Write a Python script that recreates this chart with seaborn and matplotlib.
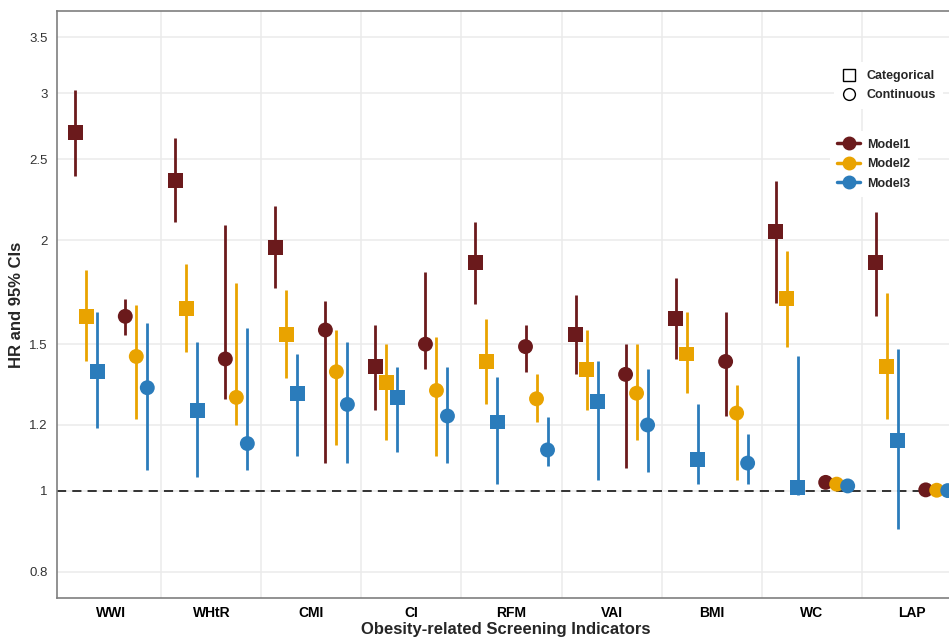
import numpy as np
import pandas as pd
import matplotlib
matplotlib.use("Agg")
import matplotlib.pyplot as plt
from matplotlib.lines import Line2D
import seaborn as sns

# Indicators on the x axis
indicators = ["WWI", "WHtR", "CMI", "CI", "RFM", "VAI", "BMI", "WC", "LAP"]
models = ["Model1", "Model2", "Model3"]
kinds = ["Categorical", "Continuous"]

# Categorical (highest vs lowest) HRs and 95% CIs
cat_m1_hr = [2.69, 2.36, 1.96, 1.41, 1.88, 1.54, 1.61, 2.05, 1.88]
cat_m1_lo = [2.39, 2.10, 1.75, 1.25, 1.675, 1.38, 1.44, 1.68, 1.62]
cat_m1_hi = [3.03, 2.65, 2.20, 1.58, 2.10, 1.72, 1.80, 2.355, 2.16]
cat_m2_hr = [1.62, 1.655, 1.54, 1.35, 1.43, 1.40, 1.46, 1.70, 1.41]
cat_m2_lo = [1.43, 1.47, 1.365, 1.15, 1.27, 1.25, 1.31, 1.49, 1.22]
cat_m2_hi = [1.84, 1.87, 1.74, 1.50, 1.61, 1.56, 1.64, 1.94, 1.73]
cat_m3_hr = [1.39, 1.25, 1.31, 1.295, 1.21, 1.28, 1.09, 1.01, 1.15]
cat_m3_lo = [1.19, 1.04, 1.10, 1.115, 1.02, 1.03, 1.02, 0.99, 0.90]
cat_m3_hi = [1.64, 1.51, 1.46, 1.41, 1.37, 1.43, 1.27, 1.45, 1.48]

# Continuous HRs and 95% CIs
con_m1_hr = [1.62, 1.44, 1.56, 1.50, 1.49, 1.38, 1.43, 1.024, 1.003]
con_m1_lo = [1.54, 1.29, 1.08, 1.40, 1.39, 1.065, 1.23, 1.015, 1.001]
con_m1_hi = [1.70, 2.085, 1.69, 1.83, 1.58, 1.50, 1.64, 1.033, 1.005]
con_m2_hr = [1.45, 1.295, 1.39, 1.32, 1.29, 1.31, 1.24, 1.019, 1.002]
con_m2_lo = [1.22, 1.20, 1.135, 1.10, 1.21, 1.15, 1.03, 1.011, 1.001]
con_m2_hi = [1.67, 1.775, 1.56, 1.53, 1.38, 1.50, 1.34, 1.027, 1.004]
con_m3_hr = [1.33, 1.14, 1.27, 1.23, 1.12, 1.20, 1.08, 1.014, 1.001]
con_m3_lo = [1.06, 1.06, 1.08, 1.08, 1.07, 1.055, 1.02, 1.006, 1.000]
con_m3_hi = [1.59, 1.57, 1.51, 1.41, 1.225, 1.40, 1.17, 1.022, 1.003]

y_ticks = [0.8, 1, 1.2, 1.5, 2, 2.5, 3, 3.5]
y_ticklabels = ["0.8", "1", "1.2", "1.5", "2", "2.5", "3", "3.5"]

colors = {"Model1": "#6B1A1C", "Model2": "#E9A300", "Model3": "#2B7CBB"}

# Build long table
series = {
    ("Categorical", "Model1"): (cat_m1_hr, cat_m1_lo, cat_m1_hi),
    ("Categorical", "Model2"): (cat_m2_hr, cat_m2_lo, cat_m2_hi),
    ("Categorical", "Model3"): (cat_m3_hr, cat_m3_lo, cat_m3_hi),
    ("Continuous", "Model1"): (con_m1_hr, con_m1_lo, con_m1_hi),
    ("Continuous", "Model2"): (con_m2_hr, con_m2_lo, con_m2_hi),
    ("Continuous", "Model3"): (con_m3_hr, con_m3_lo, con_m3_hi),
}
kind_off = {"Categorical": -0.25, "Continuous": 0.25}
model_off = {"Model1": -0.11, "Model2": 0.0, "Model3": 0.11}

rows = []
for (kind, model), (hr, lo, hi) in series.items():
    for i, ind in enumerate(indicators):
        rows.append({"indicator": ind, "kind": kind, "model": model,
                     "hr": hr[i], "lo": lo[i], "hi": hi[i],
                     "pos": i + kind_off[kind] + model_off[model]})
df = pd.DataFrame(rows)

sns.set_style("white")
plt.rcParams["font.family"] = ["Liberation Sans", "DejaVu Sans"]

fig = plt.figure(figsize=(9.49, 6.38), dpi=100)
ax = fig.add_axes([0.060, 0.0627, 0.945, 0.9201])

# Grid
for t in y_ticks:
    ax.axhline(t, color="#EBEBEB", lw=1.1, zorder=0)
for k in range(len(indicators) - 1):
    ax.axvline(k + 0.5, color="#EBEBEB", lw=1.1, zorder=0)

ax.axhline(1, color="black", lw=1.1, ls=(0, (6, 4)), zorder=1)

# CI lines
ax.vlines(df["pos"], df["lo"], df["hi"], colors=df["model"].map(colors), lw=2.0, zorder=2)

# Points
sns.scatterplot(data=df, x="pos", y="hr", hue="model", style="kind",
                markers={"Categorical": "s", "Continuous": "o"},
                palette=colors, s=115, linewidth=0, legend=False, ax=ax, zorder=3)

ax.set_yscale("log")
ax.set_ylim(0.744, 3.766)
ax.set_xlim(-0.543, 8.42)
ax.set_yticks(y_ticks)
ax.set_yticklabels(y_ticklabels)
ax.minorticks_off()
ax.set_xticks(range(len(indicators)))
ax.set_xticklabels(indicators, fontweight="bold")

ax.tick_params(axis="both", length=3.5, width=1, color="#555555", labelsize=9.5,
               labelcolor="#333333", pad=3)
ax.tick_params(axis="x", labelsize=10, labelcolor="black", pad=2.5)
for sp in ["left", "bottom", "top"]:
    ax.spines[sp].set_color("#7F7F7F")
    ax.spines[sp].set_linewidth(1.2)
ax.spines["right"].set_visible(False)

ax.set_xlabel("Obesity-related Screening Indicators", fontsize=12, fontweight="bold", labelpad=1.5)
ax.set_ylabel("HR and 95% CIs", fontsize=12, fontweight="bold", labelpad=4)

# Legends
kind_handles = [Line2D([0], [0], marker="s", ls="none", mfc="white", mec="black", mew=1.0, ms=8),
                Line2D([0], [0], marker="o", ls="none", mfc="white", mec="black", mew=1.0, ms=8.5)]
leg1 = ax.legend(kind_handles, kinds, loc="upper left", bbox_to_anchor=(0.872, 0.912),
                 bbox_transform=fig.transFigure, frameon=True, facecolor="white",
                 edgecolor="none", framealpha=1, fancybox=False, handlelength=1.2,
                 handletextpad=0.8, labelspacing=0.6, borderpad=0.6,
                 prop={"weight": "bold", "size": 9})
ax.add_artist(leg1)

model_handles = [Line2D([0], [0], marker="o", color=colors[m], lw=2.5, ms=9) for m in models]
ax.legend(model_handles, models, loc="upper left", bbox_to_anchor=(0.868, 0.804),
          bbox_transform=fig.transFigure, frameon=True, facecolor="white",
          edgecolor="none", framealpha=1, fancybox=False, handlelength=1.8,
          handletextpad=0.6, labelspacing=0.6, borderpad=0.6,
          prop={"weight": "bold", "size": 9})

fig.savefig("out.png", dpi=100)
